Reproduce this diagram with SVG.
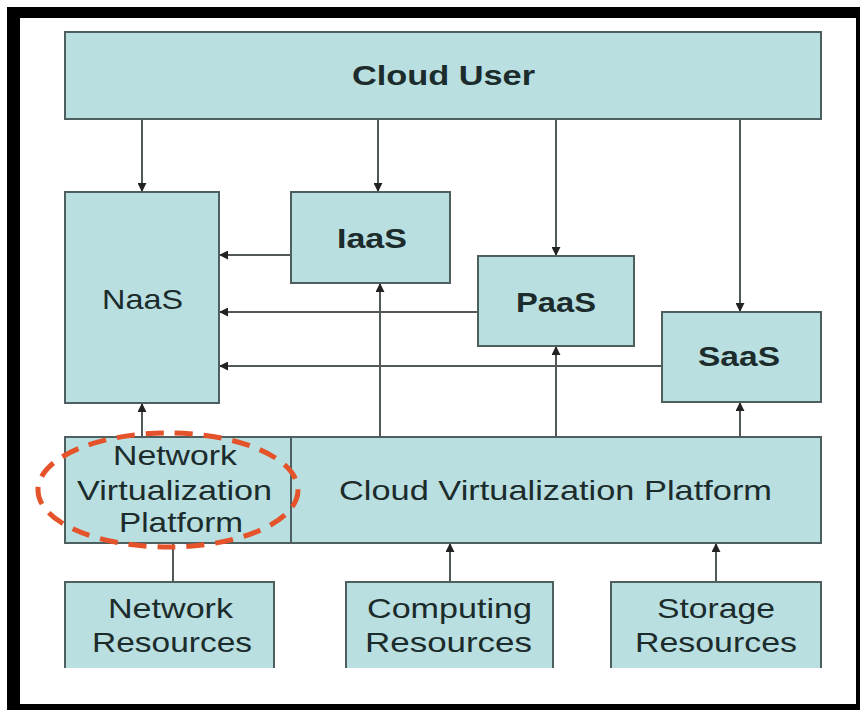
<svg xmlns="http://www.w3.org/2000/svg" width="860" height="710" viewBox="0 0 860 710">
  <defs>
    <marker id="arr" viewBox="0 0 10 10" refX="9" refY="5" markerWidth="9" markerHeight="9" markerUnits="userSpaceOnUse" orient="auto">
      <path d="M0,0 L10,5 L0,10 z" fill="#222"/>
    </marker>
    <style>
      .box { fill: #b9dfe1; stroke: #4e5f5f; stroke-width: 2; }
      .open { fill: none; stroke: #4e5f5f; stroke-width: 2; }
      .fill { fill: #b9dfe1; stroke: none; }
      .lbl { font-family: "Liberation Sans", Arial, sans-serif; font-size: 28px; fill: #1c2b2b; }
      .b { font-weight: bold; }
      .edge { fill: none; stroke: #505858; stroke-width: 2; marker-end: url(#arr); }
      .plain { fill: none; stroke: #505858; stroke-width: 2; }
      .ring { fill: none; stroke: #e4532a; stroke-width: 5; stroke-dasharray: 18 11; }
    </style>
  </defs>

  <!-- frame -->
  <rect x="0" y="0" width="860" height="710" fill="#ffffff"/>
  <rect x="7" y="7" width="853" height="703" fill="#000000"/>
  <rect x="20" y="18" width="836" height="686" fill="#ffffff"/>

  <!-- connectors -->
  <g id="connectors">
    <line class="edge" x1="142" y1="120" x2="142" y2="191"/>
    <line class="edge" x1="378" y1="120" x2="378" y2="191"/>
    <line class="edge" x1="556" y1="120" x2="556" y2="255"/>
    <line class="edge" x1="740" y1="120" x2="740" y2="311"/>
    <line class="edge" x1="291" y1="255" x2="220" y2="255"/>
    <line class="edge" x1="478" y1="312" x2="220" y2="312"/>
    <line class="edge" x1="662" y1="366" x2="220" y2="366"/>
    <line class="edge" x1="142" y1="437" x2="142" y2="404"/>
    <line class="edge" x1="380" y1="437" x2="380" y2="284"/>
    <line class="edge" x1="556" y1="437" x2="556" y2="347"/>
    <line class="edge" x1="740" y1="437" x2="740" y2="403"/>
    <line class="plain" x1="173" y1="582" x2="173" y2="544"/>
    <line class="edge" x1="450" y1="582" x2="450" y2="544"/>
    <line class="edge" x1="716" y1="582" x2="716" y2="544"/>
  </g>

  <g id="cloud-user">
    <rect class="box" x="65" y="32" width="756" height="87"/>
    <text class="lbl b" x="352" y="85" textLength="183" lengthAdjust="spacingAndGlyphs">Cloud User</text>
  </g>

  <g id="naas">
    <rect class="box" x="65" y="192" width="154" height="211"/>
    <text class="lbl" x="102" y="309" textLength="81" lengthAdjust="spacingAndGlyphs">NaaS</text>
  </g>

  <g id="iaas">
    <rect class="box" x="291" y="192" width="159" height="91"/>
    <text class="lbl b" x="337" y="248" textLength="70" lengthAdjust="spacingAndGlyphs">IaaS</text>
  </g>

  <g id="paas">
    <rect class="box" x="478" y="256" width="156" height="90"/>
    <text class="lbl b" x="516" y="312" textLength="80" lengthAdjust="spacingAndGlyphs">PaaS</text>
  </g>

  <g id="saas">
    <rect class="box" x="662" y="312" width="159" height="90"/>
    <text class="lbl b" x="698" y="366" textLength="82" lengthAdjust="spacingAndGlyphs">SaaS</text>
  </g>

  <g id="network-virtualization-platform">
    <rect class="box" x="65" y="437" width="226" height="106"/>
    <text class="lbl" x="113" y="465" textLength="124" lengthAdjust="spacingAndGlyphs">Network</text>
    <text class="lbl" x="77" y="500" textLength="195" lengthAdjust="spacingAndGlyphs">Virtualization</text>
    <text class="lbl" x="119" y="532" textLength="124" lengthAdjust="spacingAndGlyphs">Platform</text>
  </g>

  <g id="cloud-virtualization-platform">
    <rect class="box" x="291" y="437" width="530" height="106"/>
    <text class="lbl" x="339" y="500" textLength="433" lengthAdjust="spacingAndGlyphs">Cloud Virtualization Platform</text>
  </g>

  <g id="network-resources">
    <rect class="fill" x="65" y="582" width="209" height="86"/>
    <path class="open" d="M65,668 V582 H274 V668"/>
    <text class="lbl" x="108" y="618" textLength="125" lengthAdjust="spacingAndGlyphs">Network</text>
    <text class="lbl" x="92" y="652" textLength="160" lengthAdjust="spacingAndGlyphs">Resources</text>
  </g>

  <g id="computing-resources">
    <rect class="fill" x="346" y="582" width="207" height="86"/>
    <path class="open" d="M346,668 V582 H553 V668"/>
    <text class="lbl" x="367" y="618" textLength="165" lengthAdjust="spacingAndGlyphs">Computing</text>
    <text class="lbl" x="365" y="652" textLength="167" lengthAdjust="spacingAndGlyphs">Resources</text>
  </g>

  <g id="storage-resources">
    <rect class="fill" x="611" y="582" width="210" height="86"/>
    <path class="open" d="M611,668 V582 H821 V668"/>
    <text class="lbl" x="657" y="618" textLength="118" lengthAdjust="spacingAndGlyphs">Storage</text>
    <text class="lbl" x="635" y="652" textLength="162" lengthAdjust="spacingAndGlyphs">Resources</text>
  </g>

  <!-- dashed highlight around the network virtualization platform -->
  <ellipse class="ring" cx="168" cy="490" rx="130" ry="57"/>
</svg>
